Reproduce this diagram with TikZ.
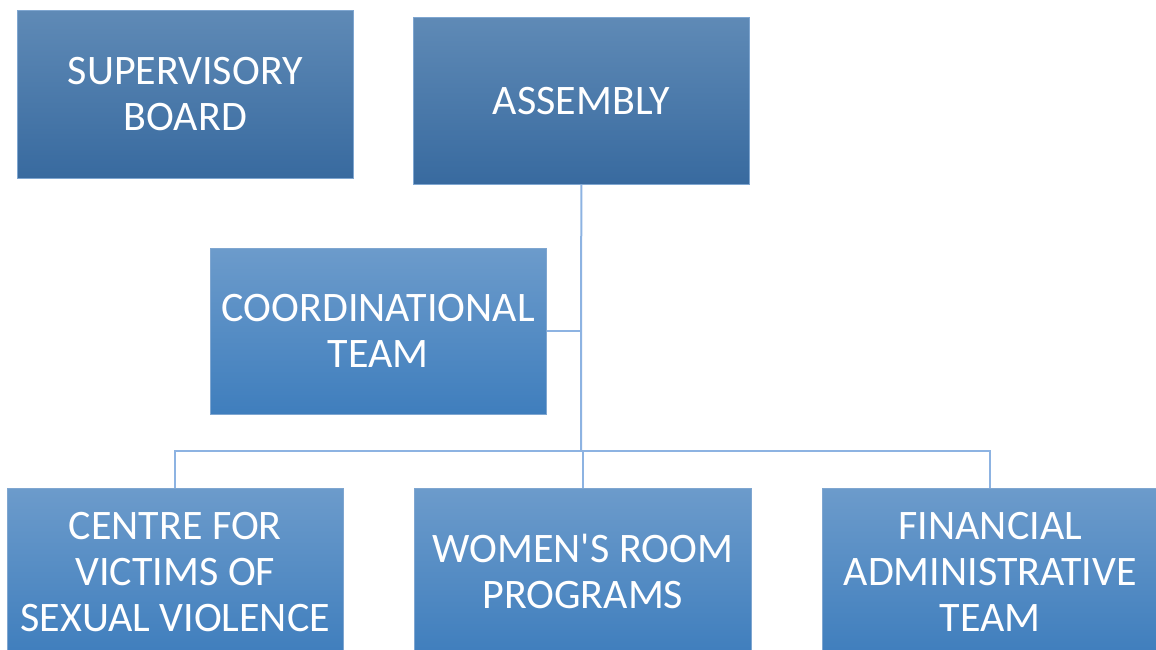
\documentclass[tikz,border=0pt]{standalone}
\usepackage{fontspec}
\setmainfont{Carlito}
\newfontfamily\boxfont{Carlito}
\begin{document}
\begin{tikzpicture}[x=1pt,y=-1pt,
  darkbox/.style={rectangle,anchor=north west,inner sep=0pt,draw=boxedge,line width=0.6pt,
    top color=dtop,bottom color=dbot,text=white,align=center,
    font=\boxfont\fontsize{42}{46}\selectfont},
  lightbox/.style={darkbox,top color=ltop,bottom color=lbot},
  conn/.style={draw=connc,line width=2pt}]
\definecolor{dtop}{HTML}{5F8AB6}
\definecolor{dbot}{HTML}{386A9F}
\definecolor{ltop}{HTML}{6C9BCB}
\definecolor{lbot}{HTML}{3F7EBD}
\definecolor{boxedge}{HTML}{7FA6D0}
\definecolor{connc}{HTML}{8DB3E2}
\useasboundingbox (0,0) rectangle (1156,650);
\clip (0,0) rectangle (1156,650);
\node[darkbox,minimum width=336pt,minimum height=168pt] (sup) at (17,10) {SUPERVISORY\\BOARD};
\node[darkbox,minimum width=336pt,minimum height=167pt] (asm) at (413,17) {ASSEMBLY};
\node[lightbox,minimum width=336pt,minimum height=166pt] (coo) at (210,248) {COORDINATIONAL\\TEAM};
\node[lightbox,minimum width=336pt,minimum height=167pt] (cen) at (7,488) {CENTRE FOR\\VICTIMS OF\\SEXUAL VIOLENCE};
\node[lightbox,minimum width=337pt,minimum height=167pt] (wom) at (414,488) {WOMEN'S ROOM\\PROGRAMS};
\node[lightbox,minimum width=336pt,minimum height=167pt] (fin) at (822,488) {FINANCIAL\\ADMINISTRATIVE\\TEAM};
\coordinate (hub) at (581,451);
\draw[conn] (asm.south) -- (hub);
\draw[conn] (coo.east) -- (coo.east -| asm.south);
\draw[conn] (cen.north) -- (cen.north |- hub) -- (fin.north |- hub) -- (fin.north);
\draw[conn] (wom.north) -- (wom.north |- hub);
\end{tikzpicture}
\end{document}
